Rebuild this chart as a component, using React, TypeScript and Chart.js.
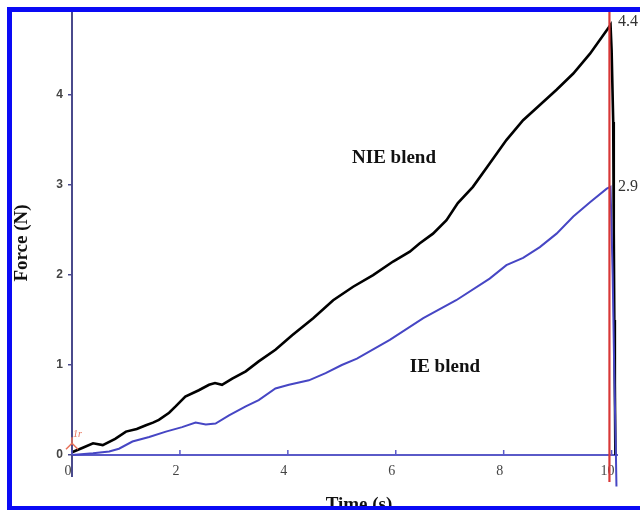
import React, { useEffect, useRef } from "react";
import { Chart, registerables } from "chart.js";

Chart.register(...registerables);

// NIE blend (black curve): time (s) and force (N)
const nieTime = [0, 0.2, 0.39, 0.57, 0.8, 1.0, 1.2, 1.37, 1.5, 1.61, 1.8, 1.92, 2.1, 2.35, 2.54, 2.65, 2.78, 2.97, 3.22, 3.46, 3.77, 4.08, 4.47, 4.84, 5.21, 5.58, 5.95, 6.26, 6.44, 6.69, 6.94, 7.15, 7.43, 7.74, 8.05, 8.36, 8.67, 8.98, 9.29, 9.6, 9.91, 9.98, 10.0, 10.03, 10.04, 10.05, 10.06, 10.07];
const nieForce = [0.03, 0.08, 0.13, 0.11, 0.18, 0.26, 0.29, 0.33, 0.36, 0.39, 0.47, 0.54, 0.65, 0.72, 0.78, 0.8, 0.78, 0.85, 0.93, 1.04, 1.17, 1.33, 1.52, 1.72, 1.87, 2.0, 2.15, 2.26, 2.35, 2.46, 2.61, 2.8, 2.98, 3.24, 3.5, 3.72, 3.89, 4.06, 4.24, 4.46, 4.72, 4.78, 4.5, 3.7, 2.5, 1.5, 0.8, 0.0];

// IE blend (blue curve)
const ieTime = [0, 0.39, 0.69, 0.87, 1.12, 1.43, 1.74, 2.04, 2.29, 2.48, 2.66, 2.91, 3.22, 3.46, 3.77, 4.02, 4.39, 4.7, 5.0, 5.28, 5.89, 6.51, 7.12, 7.74, 8.05, 8.36, 8.67, 8.98, 9.29, 9.6, 9.91, 9.98, 10.02, 10.05, 10.08, 10.09];
const ieForce = [0, 0.02, 0.04, 0.07, 0.15, 0.2, 0.26, 0.31, 0.36, 0.34, 0.35, 0.44, 0.54, 0.61, 0.74, 0.78, 0.83, 0.91, 1.0, 1.07, 1.28, 1.52, 1.72, 1.96, 2.11, 2.19, 2.31, 2.46, 2.65, 2.81, 2.96, 2.98, 2.0, 0.9, 0.0, -0.35];

// red cursor line
const cursorTime = [9.96, 9.96];
const cursorForce = [-0.3, 4.95];

const xTickValues = [0, 2, 4, 6, 8, 10];
const yTickValues = [0, 1, 2, 3, 4];

const peakLabels = ["4.4", "2.9"];
const peakForces = [4.82, 2.98];

const seriesLabels = ["NIE blend", "IE blend"];
const seriesLabelTimes = [5.19, 6.26];
const seriesLabelForces = [3.24, 0.92];

const X_MAX = 10.1;
const Y_MAX = 4.89;

const toPoints = (xs: number[], ys: number[]) => xs.map((x, i) => ({ x, y: ys[i] }));

const decorPlugin = {
  id: "decor",
  afterDraw(chart: any) {
    const ctx = chart.ctx as CanvasRenderingContext2D;
    const xs = chart.scales.x;
    const ys = chart.scales.y;
    const x0 = xs.getPixelForValue(0);
    const y0 = ys.getPixelForValue(0);
    ctx.save();

    // y axis extension (above and below the plot area)
    ctx.strokeStyle = "#4a4a8c";
    ctx.lineWidth = 2;
    ctx.beginPath();
    ctx.moveTo(x0, 10);
    ctx.lineTo(x0, chart.chartArea.top);
    ctx.moveTo(x0, chart.chartArea.bottom);
    ctx.lineTo(x0, chart.chartArea.bottom + 22);
    ctx.stroke();

    // x ticks pointing up
    ctx.strokeStyle = "#5a5ac8";
    ctx.lineWidth = 1.5;
    ctx.beginPath();
    xTickValues.forEach((v) => {
      const px = xs.getPixelForValue(v);
      ctx.moveTo(px, y0);
      ctx.lineTo(px, y0 - 5);
    });
    ctx.stroke();

    // red marker near origin
    const my = ys.getPixelForValue(0.12);
    ctx.strokeStyle = "#e8735a";
    ctx.lineWidth = 1.5;
    ctx.beginPath();
    ctx.moveTo(x0 - 6, my + 5);
    ctx.lineTo(x0, my - 1);
    ctx.lineTo(x0 + 6, my + 5);
    ctx.moveTo(x0, my - 1);
    ctx.lineTo(x0, my - 7);
    ctx.stroke();
    ctx.fillStyle = "#e8735a";
    ctx.font = "italic 10px 'Liberation Serif'";
    ctx.textAlign = "left";
    ctx.textBaseline = "alphabetic";
    ctx.fillText("1r", x0 + 1, my - 7);

    // peak value labels
    ctx.fillStyle = "#333";
    ctx.font = "16px 'Liberation Serif'";
    ctx.textBaseline = "middle";
    peakLabels.forEach((t, i) => {
      ctx.fillText(t, xs.getPixelForValue(X_MAX) + 1, ys.getPixelForValue(peakForces[i]));
    });

    // series labels
    ctx.fillStyle = "#111";
    ctx.font = "bold 19px 'Liberation Serif'";
    ctx.textBaseline = "alphabetic";
    seriesLabels.forEach((t, i) => {
      ctx.fillText(t, xs.getPixelForValue(seriesLabelTimes[i]), ys.getPixelForValue(seriesLabelForces[i]));
    });

    // axis titles
    ctx.textAlign = "center";
    ctx.fillText("Time (s)", 359, 510);
    ctx.save();
    ctx.translate(27, 243);
    ctx.rotate(-Math.PI / 2);
    ctx.fillText("Force (N)", 0, 0);
    ctx.restore();

    // blue frame
    ctx.fillStyle = "#0a0af5";
    ctx.fillRect(7, 7, 633, 5);
    ctx.fillRect(7, 7, 5, 503);
    ctx.fillRect(7, 506, 633, 4);
    ctx.restore();
  },
};

export default function App() {
  const canvasRef = useRef<HTMLCanvasElement | null>(null);

  useEffect(() => {
    if (!canvasRef.current) return;
    const chart = new Chart(canvasRef.current, {
      type: "line",
      data: {
        datasets: [
          {
            label: "cursor",
            data: toPoints(cursorTime, cursorForce),
            borderColor: "#d83838",
            borderWidth: 2.2,
            pointRadius: 0,
            clip: false as any,
          },
          {
            label: "IE blend",
            data: toPoints(ieTime, ieForce),
            borderColor: "#4646c4",
            borderWidth: 2,
            pointRadius: 0,
            clip: false as any,
          },
          {
            label: "NIE blend",
            data: toPoints(nieTime, nieForce),
            borderColor: "#000000",
            borderWidth: 2.6,
            pointRadius: 0,
            clip: false as any,
          },
        ],
      },
      options: {
        responsive: false,
        animation: false,
        layout: { padding: { top: 15, right: 23, bottom: 0, left: 0 } },
        plugins: { legend: { display: false }, tooltip: { enabled: false } },
        scales: {
          x: {
            type: "linear",
            min: 0,
            max: X_MAX,
            afterBuildTicks: (s: any) => {
              s.ticks = xTickValues.map((v) => ({ value: v }));
            },
            afterFit: (s: any) => {
              s.height = 55;
            },
            grid: { drawOnChartArea: false, drawTicks: false },
            border: { display: true, color: "#5a5ac8", width: 2 },
            ticks: {
              padding: 8,
              labelOffset: -4,
              color: "#444",
              maxRotation: 0,
              autoSkip: false,
              font: { family: "'Liberation Serif'", size: 14 },
            },
          },
          y: {
            type: "linear",
            min: 0,
            max: Y_MAX,
            afterBuildTicks: (s: any) => {
              s.ticks = yTickValues.map((v) => ({ value: v }));
            },
            afterFit: (s: any) => {
              s.width = 72;
            },
            grid: { drawOnChartArea: false, drawTicks: true, tickLength: 4, color: "#4a4a8c", lineWidth: 1.5 },
            border: { display: true, color: "#4a4a8c", width: 2 },
            ticks: {
              padding: 5,
              color: "#444",
              font: { family: "'Liberation Sans'", size: 12, weight: "bold" },
            },
          },
        },
      },
      plugins: [decorPlugin],
    });
    return () => chart.destroy();
  }, []);

  return (
    <canvas
      ref={canvasRef}
      width={640}
      height={510}
      style={{ position: "absolute", left: 0, top: 0, width: 640, height: 510, background: "#fff" }}
    />
  );
}
